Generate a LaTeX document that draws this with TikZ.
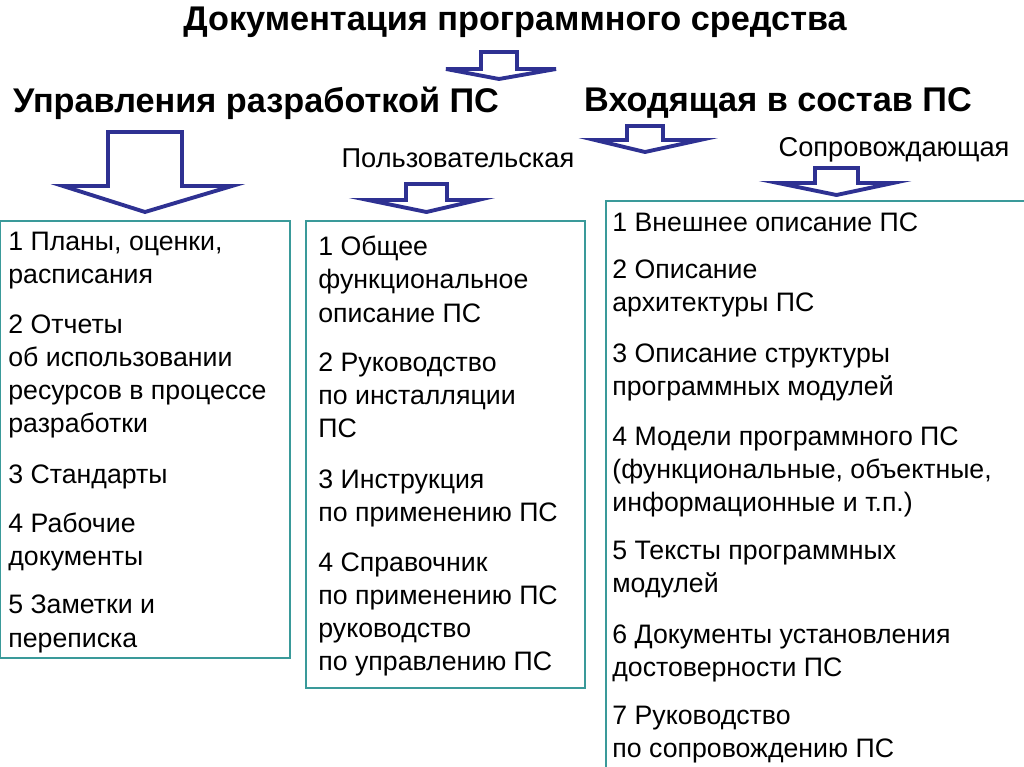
\documentclass[tikz,border=0pt]{standalone}
\usepackage{fontspec}
\setmainfont{Liberation Sans}
\begin{document}
\begin{tikzpicture}[x=0.02cm,y=-0.02cm,
  barrow/.style={draw=arrowblue,line width=2.2pt,fill=white,line join=miter},
  tbox/.style={draw=boxteal,line width=0.9pt},
  item/.style={anchor=north west,inner sep=0pt,align=left,font=\fontsize{15.2}{18.8}\selectfont},
  head/.style={font=\bfseries\fontsize{19.5}{22}\selectfont,inner sep=0pt},
  sub/.style={font=\fontsize{15.5}{17}\selectfont,inner sep=0pt}]
\definecolor{arrowblue}{HTML}{2E3192}
\definecolor{boxteal}{HTML}{3A9A9A}
\useasboundingbox[fill=white] (0,0) rectangle (1024,767);
\newcommand{\blockarrow}[7]{% x1 x2 ytop yshoulder wl wr tipy
  \draw[barrow] (#1,#3) -- (#2,#3) -- (#2,#4) -- (#6,#4) -- ({(#1+#2)/2},#7) -- (#5,#4) -- (#1,#4) -- cycle;}
% texts
\node[head] (title) at (515,22) {Документация программного средства};
\node[head] (h1) at (256,103) {Управления разработкой ПС};
\node[head] (h2) at (778,103) {Входящая в состав ПС};
\node[sub] (s1) at (458,158) {Пользовательская};
\node[sub] (s2) at (894,150) {Сопровождающая};
% arrows
\blockarrow{481}{517}{52}{69}{446}{556}{79}
\blockarrow{108}{182}{132}{186}{63}{232}{212}
\blockarrow{627}{663}{126}{140}{595}{700}{152}
\blockarrow{406}{447}{184}{200}{368}{478}{212}
\blockarrow{815}{858}{168}{183}{778}{893}{195}
% boxes
\draw[tbox] (0,221) rectangle (290,658);
\draw[tbox] (306,221) rectangle (585,688);
\draw[tbox] (606,201) rectangle (1030,775);
% left
\node[item] (l1) at (8,232) {1 Планы, оценки,\\расписания};
\node[item] (l2) at (8,314) {2 Отчеты\\об использовании\\ресурсов в процессе\\разработки};
\node[item] (l3) at (8,464) {3 Стандарты};
\node[item] (l4) at (8,513) {4 Рабочие\\документы};
\node[item] (l5) at (8,595) {5 Заметки и\\переписка};
% middle
\node[item] (m1) at (318,236) {1 Общее\\функциональное\\описание ПС};
\node[item] (m2) at (318,352) {2 Руководство\\по инсталляции\\ПС};
\node[item] (m3) at (318,469) {3 Инструкция\\по применению ПС};
\node[item] (m4) at (318,552) {4 Справочник\\по применению ПС\\руководство\\по управлению ПС};
% right
\node[item] (r1) at (612,213) {1 Внешнее описание ПС};
\node[item] (r2) at (612,259) {2 Описание\\архитектуры ПС};
\node[item] (r3) at (612,343) {3 Описание структуры\\программных модулей};
\node[item] (r4) at (612,426) {4 Модели программного ПС\\(функциональные, объектные,\\информационные и т.п.)};
\node[item] (r5) at (612,541) {5 Тексты программных\\модулей};
\node[item] (r6) at (612,624) {6 Документы установления\\достоверности ПС};
\node[item] (r7) at (612,706) {7 Руководство\\по сопровождению ПС};
\end{tikzpicture}
\end{document}
